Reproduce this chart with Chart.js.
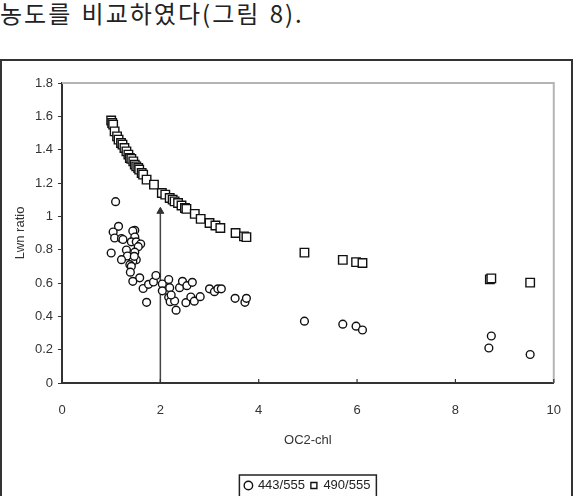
<!DOCTYPE html>
<html>
<head>
<meta charset="utf-8">
<script src="https://cdn.jsdelivr.net/npm/chart.js@4.4.0/dist/chart.umd.min.js"></script>
<style>
  body{margin:0;background:#fff;width:581px;height:496px;overflow:hidden;position:relative;}
  #head{position:absolute;left:0;top:-1px;font-family:"Noto Sans CJK KR";font-size:24px;line-height:28px;color:#222;letter-spacing:2px;word-spacing:2px;white-space:nowrap;}
  #frame{position:absolute;left:0;top:59px;width:569px;height:460px;border:2px solid #333;}
  #wrap{position:absolute;left:0;top:0;width:581px;height:496px;}
</style>
</head>
<body>
<div id="head">농도를 비교하였다(그림 8).</div>
<div id="frame"></div>
<div id="wrap"><canvas id="chart"></canvas></div>
<script>
// 축 눈금
const xTicks = [0, 2, 4, 6, 8, 10];
const yTicks = [0, 0.2, 0.4, 0.6, 0.8, 1, 1.2, 1.4, 1.6, 1.8];
const xTitle = 'OC2-chl';
const yTitle = 'Lwn ratio';
const seriesNames = ['443/555', '490/555'];

// 443/555 (원)
const chl443 = [1.09,1.15,1.04,1.48,1.44,1.07,1.21,1.24,1.48,1.41,1.51,1.60,1.55,1.00,1.31,1.33,1.48,1.21,1.51,1.44,1.38,1.41,1.39,1.47,
  1.58,1.44,1.65,1.72,1.76,1.86,1.91,2.04,2.04,2.17,2.19,2.17,2.20,2.29,2.32,2.22,2.39,2.45,2.54,2.65,2.52,2.62,2.69,2.81,
  3.00,3.10,3.17,3.24,3.52,3.72,3.75,4.93,5.71,5.98,6.11,8.73,8.68,9.52];
const ratio443 = [1.088,0.940,0.906,0.916,0.912,0.870,0.867,0.861,0.876,0.847,0.847,0.834,0.818,0.780,0.798,0.762,0.785,0.740,0.740,0.730,0.710,0.700,0.665,0.760,
  0.631,0.610,0.567,0.484,0.592,0.606,0.645,0.594,0.553,0.621,0.572,0.514,0.488,0.492,0.437,0.528,0.572,0.610,0.584,0.604,0.482,0.516,0.491,0.518,
  0.565,0.548,0.565,0.565,0.508,0.484,0.508,0.371,0.353,0.341,0.318,0.282,0.210,0.171];

// 490/555 (사각형)
const chl490 = [1.00,1.02,1.04,1.07,1.12,1.15,1.20,1.23,1.27,1.31,1.35,1.38,1.41,1.45,1.48,1.51,1.55,1.57,1.62,1.65,1.72,1.87,
  2.03,2.10,2.19,2.25,2.29,2.36,2.43,2.50,2.53,2.70,2.82,3.00,3.12,3.22,3.53,3.70,3.75,4.93,5.71,5.98,6.11,8.70,8.73,9.52];
const ratio490 = [1.575,1.560,1.550,1.510,1.480,1.460,1.440,1.430,1.410,1.390,1.370,1.350,1.345,1.330,1.310,1.300,1.290,1.280,1.260,1.250,1.220,1.190,
  1.140,1.130,1.110,1.100,1.090,1.080,1.065,1.050,1.045,1.015,0.985,0.960,0.945,0.930,0.900,0.880,0.875,0.782,0.739,0.725,0.720,0.622,0.628,0.602];

// 화살표
const arrowX = [2, 2];
const arrowY = [0, 1.03];

const toPts = (xs, ys) => xs.map((x, i) => ({ x, y: ys[i] }));
const FONT = 'Liberation Sans';

/* ====== 테두리/범례 박스 ====== */
const framePlugin = {
  id: 'frame',
  afterLayout(chart){
    const a = chart.chartArea, lg = chart.legend;
    lg.left = a.left; lg.right = a.right; lg.width = a.right - a.left;
    lg.top += 6; lg.bottom += 6;
  },
  afterDraw(chart){
    const { ctx, chartArea: a } = chart;
    ctx.save();
    ctx.strokeStyle = '#b4b4b4'; ctx.lineWidth = 2;
    ctx.beginPath(); ctx.moveTo(a.left, a.top); ctx.lineTo(a.right, a.top); ctx.lineTo(a.right, a.bottom); ctx.stroke();
    const xs = chart.scales.x;
    ctx.strokeStyle = '#333'; ctx.lineWidth = 1.2;
    xs.ticks.forEach(t => {
      const px = xs.getPixelForValue(t.value);
      ctx.beginPath(); ctx.moveTo(px, a.bottom); ctx.lineTo(px, a.bottom - 4); ctx.stroke();
    });
    const hb = chart.legend.legendHitBoxes || [];
    if(hb.length){
      const l = Math.min(...hb.map(h => h.left)) - 6;
      const r = Math.max(...hb.map(h => h.left + h.width)) + 6;
      const t = Math.min(...hb.map(h => h.top)) - 4;
      const b = Math.max(...hb.map(h => h.top + h.height)) + 5;
      ctx.strokeStyle = '#222'; ctx.lineWidth = 1.5;
      ctx.strokeRect(l, t, r - l, b - t);
    }
    ctx.restore();
  }
};

const markStyle = { borderColor: '#111', backgroundColor: '#fff', borderWidth: 1.4 };

new Chart(document.getElementById('chart'), {
  type: 'scatter',
  data: {
    datasets: [
      { label: seriesNames[0], data: toPts(chl443, ratio443), pointStyle: 'circle', pointRadius: 3.9, ...markStyle },
      { label: seriesNames[1], data: toPts(chl490, ratio490), pointStyle: 'rect', pointRadius: 6, ...markStyle },
      { label: 'arrow', type: 'line', data: toPts(arrowX, arrowY), borderColor: '#444', borderWidth: 1.5,
        pointRadius: [0, 4], pointStyle: 'triangle', pointBackgroundColor: '#333', pointBorderColor: '#333', pointBorderWidth: 1 }
    ]
  },
  options: {
    responsive: true, maintainAspectRatio: false, animation: false,
    layout: { padding: { top: 83, right: 25, bottom: 0, left: 0 } },
    scales: {
      x: {
        type: 'linear', min: 0, max: 10,
        afterBuildTicks: s => { s.ticks = xTicks.map(v => ({ value: v })); },
        afterFit: s => { s.height = 84; },
        grid: { display: true, drawOnChartArea: false, drawTicks: false },
        border: { color: '#333', width: 2 },
        ticks: { padding: 20, color: '#333', font: { family: FONT, size: 13 }, callback: v => String(v) },
        title: { display: true, text: xTitle, color: '#333', font: { family: FONT, size: 13 }, padding: { top: 0, bottom: 19 } }
      },
      y: {
        type: 'linear', min: 0, max: 1.8,
        afterBuildTicks: s => { s.ticks = yTicks.map(v => ({ value: v })); },
        afterFit: s => { s.width = 62; },
        grid: { display: true, drawOnChartArea: false, drawTicks: true, tickLength: 4, color: '#333' },
        border: { color: '#333', width: 2 },
        ticks: { padding: 5, color: '#333', font: { family: FONT, size: 13 }, callback: v => String(v) },
        title: { display: true, text: yTitle, color: '#333', font: { family: FONT, size: 13 }, padding: { top: 13, bottom: 0 } }
      }
    },
    plugins: {
      tooltip: { enabled: false },
      legend: {
        position: 'bottom',
        labels: {
          usePointStyle: true, boxWidth: 6, boxHeight: 6, padding: 6, color: '#222',
          font: { family: FONT, size: 13 },
          filter: item => item.text !== 'arrow'
        }
      }
    }
  },
  plugins: [framePlugin]
});
</script>
</body>
</html>
